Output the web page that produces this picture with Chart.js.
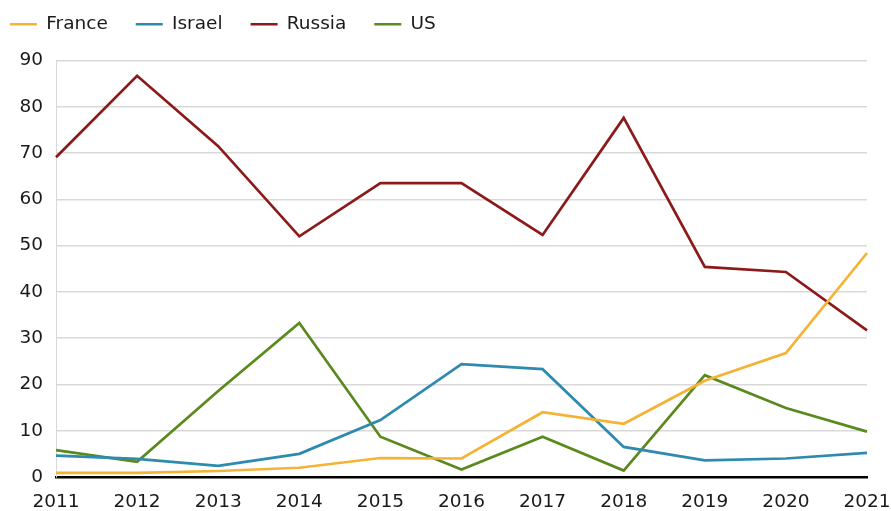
<!DOCTYPE html>
<html>
<head>
<meta charset="utf-8">
<script src="https://cdn.jsdelivr.net/npm/chart.js@4/dist/chart.umd.min.js"></script>
<style>
  html, body { margin: 0; padding: 0; background: #fff; }
  #wrap { width: 891px; height: 511px; }
</style>
</head>
<body>
<div id="wrap"><canvas id="c"></canvas></div>
<script>
// values
const years = ['2011', '2012', '2013', '2014', '2015', '2016', '2017', '2018', '2019', '2020', '2021'];
const france = [0.9, 0.9, 1.3, 2.0, 4.1, 4.0, 14.0, 11.5, 20.8, 26.8, 48.4];
const israel = [4.6, 3.9, 2.4, 5.0, 12.3, 24.4, 23.3, 6.5, 3.6, 4.0, 5.2];
const russia = [69.1, 86.7, 71.5, 52.0, 63.5, 63.5, 52.3, 77.6, 45.4, 44.3, 31.7];
const us = [5.8, 3.3, 18.6, 33.3, 8.7, 1.6, 8.7, 1.4, 22.0, 14.9, 9.8];

const font = { family: 'DejaVu Sans, sans-serif', size: 18.5 };

function line(label, data, color) {
  return {
    label: label,
    data: data,
    borderColor: color,
    backgroundColor: color,
    borderWidth: 2.7,
    pointRadius: 0,
    tension: 0
  };
}

// tweak the space under the legend
const legendGap = {
  id: 'legendGap',
  beforeInit(chart) {
    const fit = chart.legend.fit;
    chart.legend.fit = function() {
      fit.call(this);
      this.height += 17;
    };
  }
};

new Chart(document.getElementById('c'), {
  type: 'line',
  data: {
    labels: years,
    datasets: [
      line('France', france, '#f5b335'),
      line('Israel', israel, '#2e8aae'),
      line('Russia', russia, '#8c1a1a'),
      line('US', us, '#5a8a1e')
    ]
  },
  options: {
    responsive: true,
    maintainAspectRatio: false,
    animation: false,
    layout: { padding: { left: -18, right: 0, top: -13, bottom: 0 } },
    plugins: {
      tooltip: { enabled: false },
      legend: {
        position: 'top',
        align: 'start',
        labels: {
          usePointStyle: true,
          pointStyle: 'line',
          pointStyleWidth: 27,
          color: '#1a1a1a',
          font: font,
          padding: 28
        }
      }
    },
    scales: {
      x: {
        offset: false,
        grid: { display: false, drawTicks: false },
        border: { color: '#000', width: 2.5 },
        ticks: { color: '#1a1a1a', font: font, padding: 14, maxRotation: 0, autoSkip: false },
        afterFit(scale) {
          scale.height = 34;
          scale.paddingRight = 24;
        }
      },
      y: {
        min: 0,
        max: 90,
        grid: { color: '#d9d9d9', lineWidth: 1.5, drawTicks: false },
        border: { color: '#d9d9d9' },
        ticks: { stepSize: 10, color: '#1a1a1a', font: font, padding: 13 },
        afterFit(scale) { scale.width = 74; }
      }
    }
  },
  plugins: [legendGap]
});
</script>
</body>
</html>
